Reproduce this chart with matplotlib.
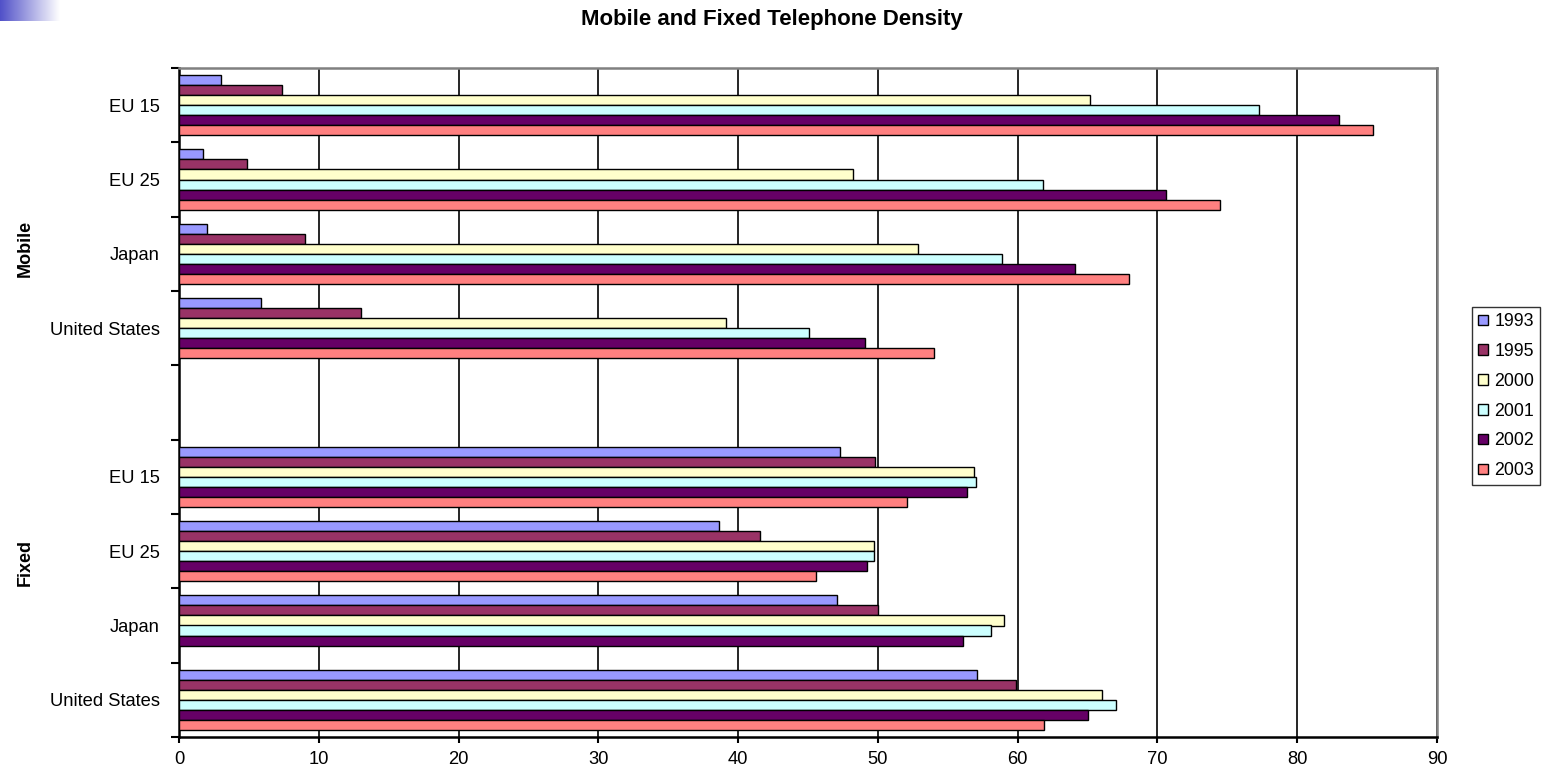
import numpy as np
import matplotlib
matplotlib.use("Agg")
import matplotlib.pyplot as plt
from matplotlib.patches import Patch

plt.rcParams['font.family'] = ['Liberation Sans', 'DejaVu Sans']

# ---------------- data ----------------
countries = ["EU 15", "EU 25", "Japan", "United States"]
groups = ["Mobile", "Fixed"]
years = ["1993", "1995", "2000", "2001", "2002", "2003"]
colors = ["#9999FF", "#993366", "#FFFFCC", "#CCFFFF", "#660066", "#FF8080"]

# Mobile density (per 100 inhabitants), order: EU 15, EU 25, Japan, United States
mobile_1993 = [3.0, 1.7, 2.0, 5.9]
mobile_1995 = [7.4, 4.9, 9.0, 13.0]
mobile_2000 = [65.2, 48.2, 52.9, 39.1]
mobile_2001 = [77.3, 61.8, 58.9, 45.1]
mobile_2002 = [83.0, 70.6, 64.1, 49.1]
mobile_2003 = [85.4, 74.5, 68.0, 54.0]

# Fixed density
fixed_1993 = [47.3, 38.6, 47.1, 57.1]
fixed_1995 = [49.8, 41.6, 50.0, 59.9]
fixed_2000 = [56.9, 49.7, 59.0, 66.0]
fixed_2001 = [57.0, 49.7, 58.1, 67.0]
fixed_2002 = [56.4, 49.2, 56.1, 65.0]
fixed_2003 = [52.1, 45.6, np.nan, 61.9]

mobile = [mobile_1993, mobile_1995, mobile_2000, mobile_2001, mobile_2002, mobile_2003]
fixed = [fixed_1993, fixed_1995, fixed_2000, fixed_2001, fixed_2002, fixed_2003]

# ---------------- figure ----------------
W, H = 1547, 771
fig = plt.figure(figsize=(W / 100, H / 100), dpi=100)
fig.patch.set_facecolor("white")

# decorative gradient in the top-left corner
gax = fig.add_axes([0, 1 - 21 / H, 60 / W, 21 / H])
grad = np.linspace(0, 1, 256)[None, :]
start = np.array([80, 80, 200]) / 255.0
img = start[None, None, :] * (1 - grad[..., None]) + np.ones(3)[None, None, :] * grad[..., None]
gax.imshow(img, aspect="auto", extent=[0, 1, 0, 1])
gax.set_axis_off()

left, right = 179 / W, 1437 / W
bottom, top = 1 - 737 / H, 1 - 68 / H
ax = fig.add_axes([left, bottom, right - left, top - bottom])

n_series = len(years)
bar_h = 0.136
labels_all = countries + [""] + countries
slot_pos = np.arange(len(labels_all))
mobile_pos = slot_pos[:4]
fixed_pos = slot_pos[5:]

for i in range(n_series):
    off = -bar_h * n_series / 2 + bar_h * (i + 0.5)
    ax.barh(mobile_pos + off, mobile[i], height=bar_h, color=colors[i],
            edgecolor="black", linewidth=1.0, zorder=3)
    ax.barh(fixed_pos + off, fixed[i], height=bar_h, color=colors[i],
            edgecolor="black", linewidth=1.0, zorder=3)

ax.set_xlim(0, 90)
ax.set_ylim(len(labels_all) - 0.5, -0.5)
ax.set_xticks(np.arange(0, 91, 10))
ax.set_yticks(np.arange(-0.5, len(labels_all), 1.0))
ax.set_yticklabels([])
ax.set_yticks(slot_pos, minor=True)
ax.set_yticklabels(labels_all, minor=True, fontsize=13.2)
ax.tick_params(axis="y", which="minor", length=0, pad=14)
ax.tick_params(axis="y", which="major", length=6, width=1.5, direction="out", color="black")
ax.tick_params(axis="x", which="major", length=4, width=1.5, direction="out", labelsize=13.2, pad=6)

ax.grid(axis="x", color="black", linewidth=1.2, zorder=0)
ax.set_axisbelow(True)
for s in ["left", "bottom"]:
    ax.spines[s].set_color("black")
    ax.spines[s].set_linewidth(1.8)
for s in ["top", "right"]:
    ax.spines[s].set_color("#808080")
    ax.spines[s].set_linewidth(1.8)

# group labels
fig.text(25 / W, 1 - 248 / H, groups[0], rotation=90, fontsize=13, fontweight="bold",
         ha="center", va="center")
fig.text(25 / W, 1 - 562 / H, groups[1], rotation=90, fontsize=13, fontweight="bold",
         ha="center", va="center")

# title
fig.text(772 / W, 1 - 20 / H, "Mobile and Fixed Telephone Density", fontsize=16,
         fontweight="bold", ha="center", va="center")

# legend
handles = [Patch(facecolor=c, edgecolor="black", linewidth=1.0) for c in colors]
leg = fig.legend(handles, years, loc="upper left",
                 bbox_to_anchor=(1472 / W, 1 - 307 / H), bbox_transform=fig.transFigure,
                 borderaxespad=0, fontsize=12.8, frameon=True, fancybox=False,
                 handlelength=0.55, handleheight=0.55, handletextpad=0.35,
                 labelspacing=0.72, borderpad=0.35)
leg.get_frame().set_edgecolor("black")
leg.get_frame().set_linewidth(1.0)

fig.savefig("out.png", dpi=100)
